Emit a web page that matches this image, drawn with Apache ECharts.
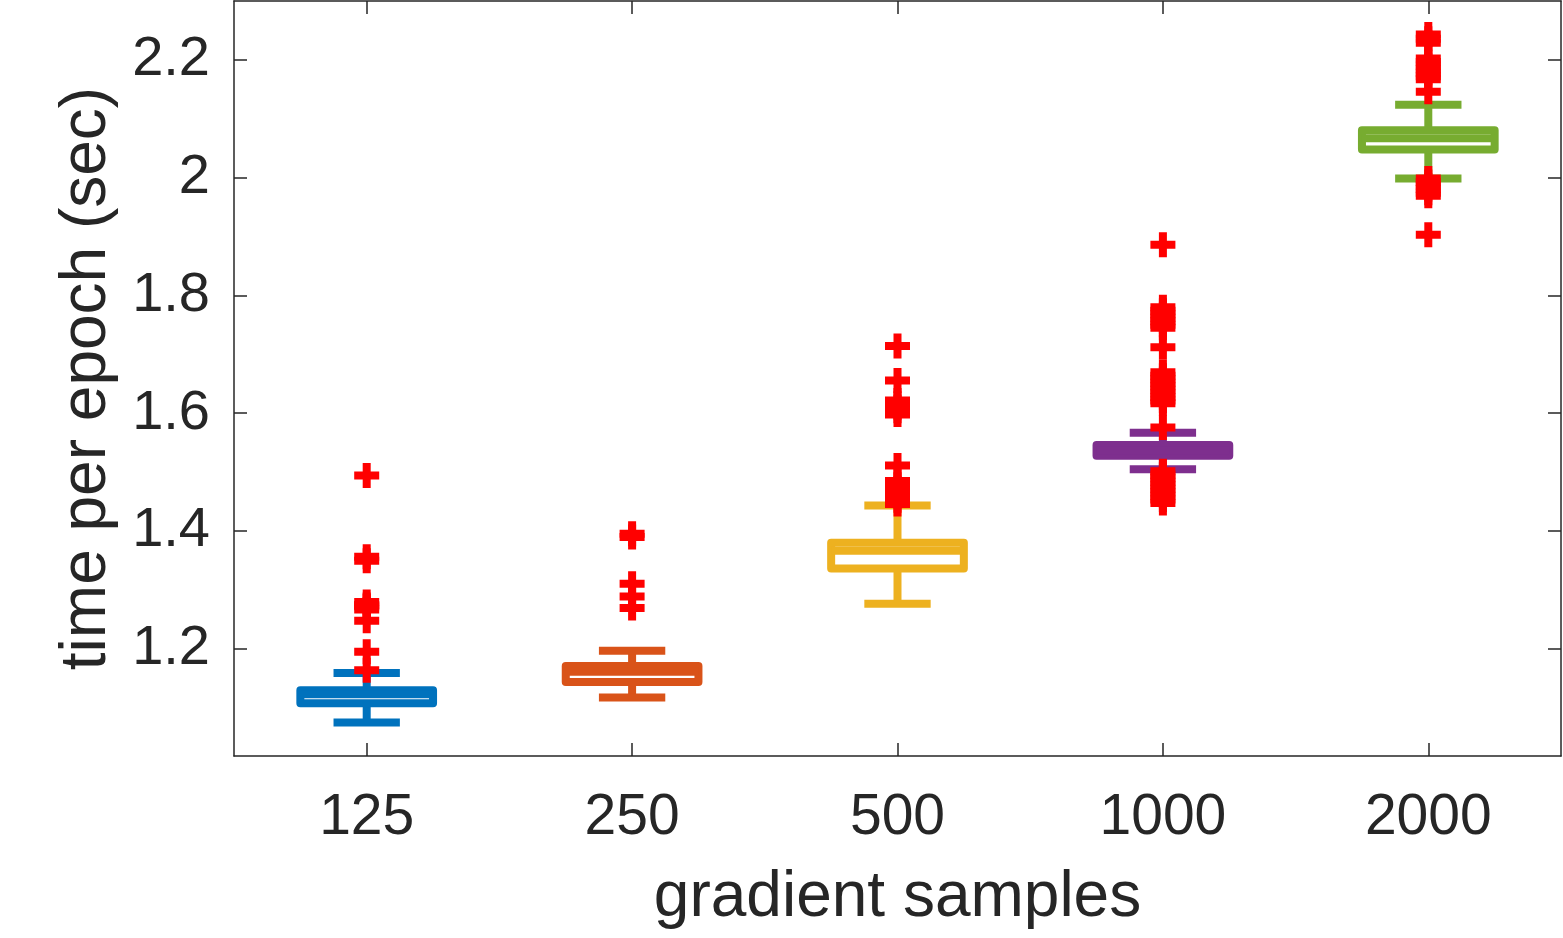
<!DOCTYPE html>
<html>
<head>
<meta charset="utf-8">
<script src="https://cdn.jsdelivr.net/npm/echarts@6/dist/echarts.min.js"></script>
<style>
html,body{margin:0;padding:0;background:#fff;}
#chart{width:1563px;height:938px;}
</style>
</head>
<body>
<div id="chart"></div>
<script>
// ---- data ----
const categories = ['125', '250', '500', '1000', '2000'];
const lowerWhisker = [1.0744, 1.1170, 1.2764, 1.5047, 1.9985];
const quartile1    = [1.1071, 1.1433, 1.3363, 1.5277, 2.0477];
const medians      = [1.1224, 1.1606, 1.3664, 1.5370, 2.0669];
const quartile3    = [1.1292, 1.1705, 1.3800, 1.5457, 2.0805];
const upperWhisker = [1.1586, 1.1963, 1.4430, 1.5669, 2.1239];

const outliers125  = [1.4942, 1.3561, 1.3493, 1.2793, 1.2740, 1.2720, 1.2667, 1.2475, 1.1949, 1.1632];
const outliers250  = [1.3952, 1.3895, 1.3102, 1.2888, 1.2689];
const outliers500  = [1.7141, 1.6555, 1.6216, 1.6160, 1.6102, 1.6040, 1.5978, 1.5112,
                      1.4846, 1.4786, 1.4716, 1.4650, 1.4586, 1.4520, 1.4455];
const outliers1000 = [1.8859, 1.7799, 1.7740, 1.7680, 1.7620, 1.7560, 1.7500, 1.7450, 1.7120,
                      1.6696, 1.6636, 1.6576, 1.6516, 1.6456, 1.6396, 1.6336, 1.6276, 1.6216, 1.6170, 1.5757,
                      1.5015, 1.4955, 1.4895, 1.4835, 1.4775, 1.4715, 1.4655, 1.4595, 1.4535, 1.4472];
const outliers2000 = [2.2430, 2.2360, 2.2289, 2.2022, 2.1962, 2.1902, 2.1842, 2.1782, 2.1722, 2.1671, 2.1459,
                      1.9985, 1.9925, 1.9865, 1.9805, 1.9745, 1.9691, 1.9029];

const yTickValues = [1.2, 1.4, 1.6, 1.8, 2.0, 2.2];
const yMin = 1.0177, yMax = 2.3;

const boxColors = ['#0072BD', '#D95319', '#EDB120', '#7E2F8E', '#77AC30'];
const textColor = '#262626';
const fontFamily = '"Liberation Sans", Arial, Helvetica, sans-serif';

// ---- build series data ----
const boxData = categories.map((c, i) => [i, lowerWhisker[i], quartile1[i], medians[i], quartile3[i], upperWhisker[i]]);
const outlierGroups = [outliers125, outliers250, outliers500, outliers1000, outliers2000];
const outlierData = [];
outlierGroups.forEach((arr, i) => arr.forEach(v => outlierData.push([i, v])));

const plusPath = 'path://M0.34,0 L0.66,0 L0.66,0.34 L1,0.34 L1,0.66 L0.66,0.66 L0.66,1 L0.34,1 L0.34,0.66 L0,0.66 L0,0.34 L0.34,0.34 Z';

const LW = 8;

function renderBox(params, api) {
  const cat = api.value(0);
  const lo = api.coord([cat, api.value(1)]);
  const q1 = api.coord([cat, api.value(2)]);
  const md = api.coord([cat, api.value(3)]);
  const q3 = api.coord([cat, api.value(4)]);
  const hi = api.coord([cat, api.value(5)]);
  const band = api.size([1, 0])[0];
  const bw = band * 0.5;
  const cw = band * 0.25;
  const cx = q1[0];
  const color = boxColors[params.dataIndex];
  const lineStyle = { stroke: color, lineWidth: LW, lineCap: 'butt' };
  return {
    type: 'group',
    children: [
      { type: 'line', shape: { x1: cx, y1: q3[1], x2: cx, y2: hi[1] }, style: lineStyle },
      { type: 'line', shape: { x1: cx, y1: q1[1], x2: cx, y2: lo[1] }, style: lineStyle },
      { type: 'line', shape: { x1: cx - cw / 2, y1: hi[1], x2: cx + cw / 2, y2: hi[1] }, style: lineStyle },
      { type: 'line', shape: { x1: cx - cw / 2, y1: lo[1], x2: cx + cw / 2, y2: lo[1] }, style: lineStyle },
      { type: 'rect', shape: { x: cx - bw / 2, y: q3[1], width: bw, height: q1[1] - q3[1] },
        style: { fill: '#ffffff', stroke: color, lineWidth: LW, lineJoin: 'round' } },
      { type: 'line', shape: { x1: cx - bw / 2, y1: md[1], x2: cx + bw / 2, y2: md[1] }, style: lineStyle }
    ]
  };
}

const axisLineStyle = { color: textColor, width: 1.5 };

const chart = echarts.init(document.getElementById('chart'), null, { renderer: 'canvas' });
chart.setOption({
  backgroundColor: '#ffffff',
  animation: false,
  grid: { left: 234, right: 2, top: 1, bottom: 182, containLabel: false },
  xAxis: [
    {
      type: 'category', data: categories, position: 'bottom', boundaryGap: true,
      axisLine: { show: true, lineStyle: axisLineStyle },
      axisTick: { show: true, inside: true, length: 13, alignWithLabel: true, lineStyle: axisLineStyle },
      axisLabel: { color: textColor, fontSize: 57, fontFamily: fontFamily, margin: 34 },
      splitLine: { show: false },
      name: 'gradient samples', nameLocation: 'middle', nameGap: 110,
      nameTextStyle: { color: textColor, fontSize: 64, fontFamily: fontFamily }
    },
    {
      type: 'category', data: categories, position: 'top', boundaryGap: true,
      axisLine: { show: true, lineStyle: axisLineStyle },
      axisTick: { show: true, inside: true, length: 13, alignWithLabel: true, lineStyle: axisLineStyle },
      axisLabel: { show: false },
      splitLine: { show: false }
    }
  ],
  yAxis: [
    {
      type: 'value', min: yMin, max: yMax, position: 'left',
      axisLine: { show: true, lineStyle: axisLineStyle },
      axisTick: { show: true, inside: true, length: 13, customValues: yTickValues, lineStyle: axisLineStyle },
      axisLabel: { color: textColor, fontSize: 56, fontFamily: fontFamily, margin: 24,
        customValues: yTickValues, formatter: v => String(parseFloat(Number(v).toFixed(2))) },
      splitLine: { show: false },
      name: 'time per epoch (sec)', nameLocation: 'middle', nameGap: 115,
      nameTextStyle: { color: textColor, fontSize: 64, fontFamily: fontFamily }
    },
    {
      type: 'value', min: yMin, max: yMax, position: 'right',
      axisLine: { show: true, lineStyle: axisLineStyle },
      axisTick: { show: true, inside: true, length: 13, customValues: yTickValues, lineStyle: axisLineStyle },
      axisLabel: { show: false, customValues: yTickValues },
      splitLine: { show: false }
    }
  ],
  series: [
    {
      type: 'custom', xAxisIndex: 0, yAxisIndex: 0,
      renderItem: renderBox,
      encode: { x: 0, y: [1, 2, 3, 4, 5] },
      data: boxData, clip: false, z: 2
    },
    {
      type: 'scatter', xAxisIndex: 0, yAxisIndex: 0,
      symbol: plusPath, symbolSize: 25,
      itemStyle: { color: '#FF0000', opacity: 1 },
      data: outlierData, z: 3
    }
  ]
});
</script>
</body>
</html>
